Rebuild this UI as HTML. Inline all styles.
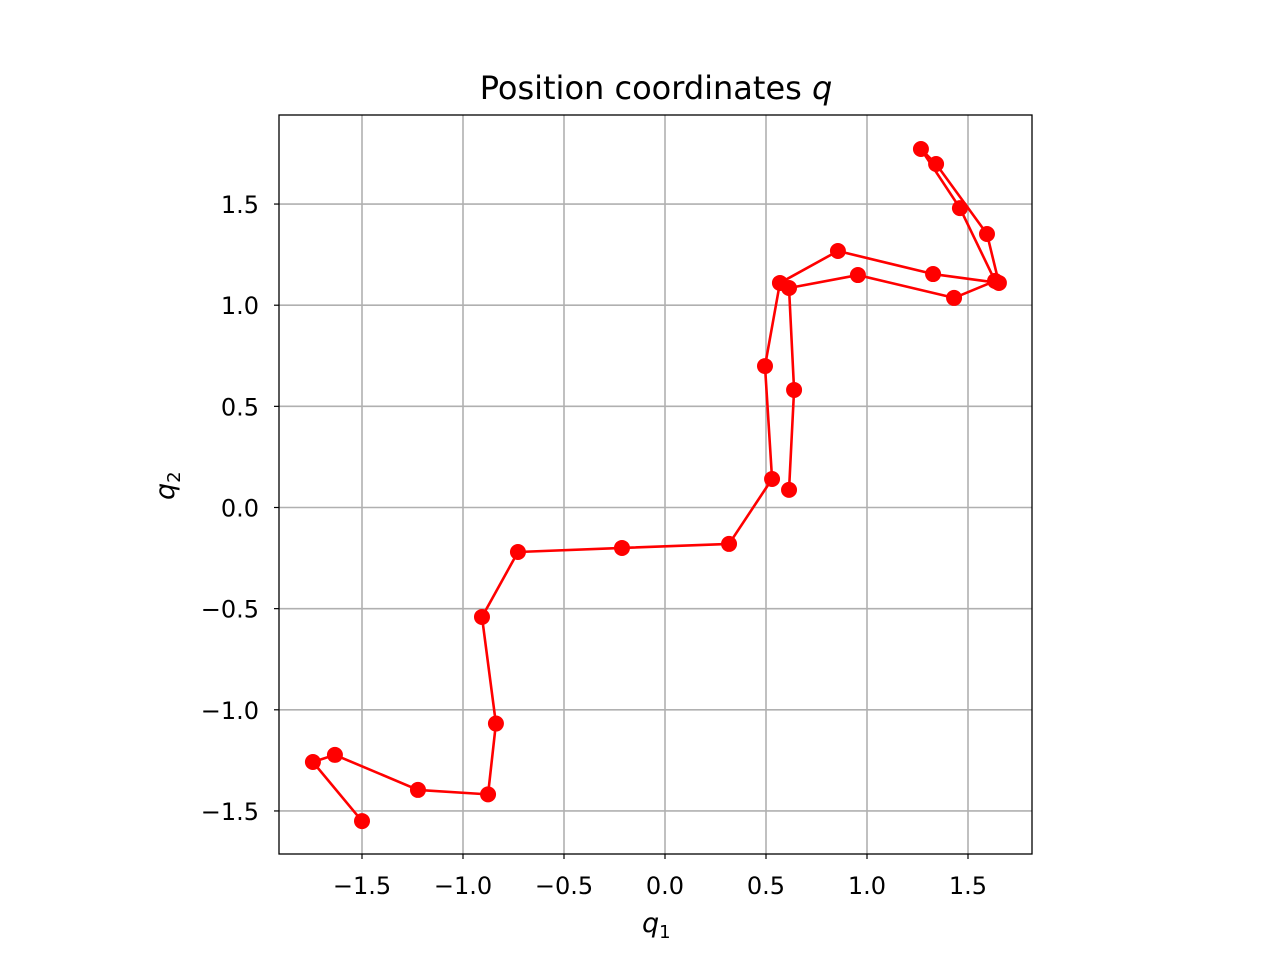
<!DOCTYPE html>
<html><head><meta charset="utf-8"><style>body{margin:0;background:#fff}svg{display:block;font-family:"DejaVu Sans","Liberation Sans",sans-serif}</style></head>
<body>
<svg id="c" width="1280" height="960" xmlns="http://www.w3.org/2000/svg"></svg>
<script>
const qx=[-1.5,-1.743,-1.634,-1.223,-0.876,-0.837,-0.906,-0.728,-0.213,0.317,0.530,0.495,0.569,0.856,1.327,1.653,1.594,1.342,1.267,1.460,1.634,1.431,0.955,0.614,0.639,0.614];
const qy=[-1.55,-1.258,-1.223,-1.396,-1.418,-1.068,-0.541,-0.220,-0.200,-0.180,0.141,0.699,1.110,1.268,1.154,1.110,1.352,1.698,1.772,1.480,1.120,1.036,1.149,1.085,0.581,0.087];
const xTicks=[-1.5,-1.0,-0.5,0.0,0.5,1.0,1.5];
const yTicks=[-1.5,-1.0,-0.5,0.0,0.5,1.0,1.5];
const NS="http://www.w3.org/2000/svg",svg=document.getElementById('c');
const L=279,R=1032,T=115,B=854;
const sx=v=>665+v*202, sy=v=>507.5-v*202.3;
function mk(t,a){const e=document.createElementNS(NS,t);for(const k in a)e.setAttribute(k,a[k]);svg.appendChild(e);return e;}
const fmt=v=>(v<0?"\u2212":"")+Math.abs(v).toFixed(1);
xTicks.forEach(v=>{const x=sx(v);
 const g=mk('line',{x1:x,x2:x,y1:T,y2:B,stroke:'#b0b0b0','stroke-width':1.6});
 
 mk('line',{x1:x,x2:x,y1:B,y2:B+5,stroke:'#000','stroke-width':1.2});
 const t=mk('text',{x:x,y:B+40,'text-anchor':'middle','font-size':24});t.textContent=fmt(v);
 });
yTicks.forEach(v=>{const y=sy(v);
 const g=mk('line',{x1:L,x2:R,y1:y,y2:y,stroke:'#b0b0b0','stroke-width':1.6});
 
 mk('line',{x1:L-5,x2:L,y1:y,y2:y,stroke:'#000','stroke-width':1.2});
 const t=mk('text',{x:L-20,y:y+9,'text-anchor':'end','font-size':24});t.textContent=fmt(v);
 });
const pl=mk('polyline',{points:qx.map((v,i)=>sx(v)+','+sy(qy[i])).join(' '),fill:'none',stroke:'#f00','stroke-width':2.6,'stroke-linejoin':'round'});

qx.forEach((v,i)=>{const c=mk('circle',{cx:sx(v),cy:sy(qy[i]),r:8,fill:'#f00'});
 });
const fr=mk('rect',{x:L,y:T,width:R-L,height:B-T,fill:'none',stroke:'#000','stroke-width':1.3});

</script>
<div style="position:absolute;left:0;top:0;width:1280px;height:960px;pointer-events:none">
<svg width="1280" height="960" xmlns="http://www.w3.org/2000/svg" style="font-family:'DejaVu Sans','Liberation Sans',sans-serif">
<text x="656" y="99" text-anchor="middle" font-size="32">Position coordinates <tspan font-style="italic">q</tspan></text>
<text x="642" y="932" font-size="27" font-style="italic">q<tspan font-size="18" dy="6" font-style="normal">1</tspan></text>
<text transform="translate(174,500) rotate(-90)" font-size="27" font-style="italic">q<tspan font-size="18" dy="6" font-style="normal">2</tspan></text>
</svg></div>
</body></html>
